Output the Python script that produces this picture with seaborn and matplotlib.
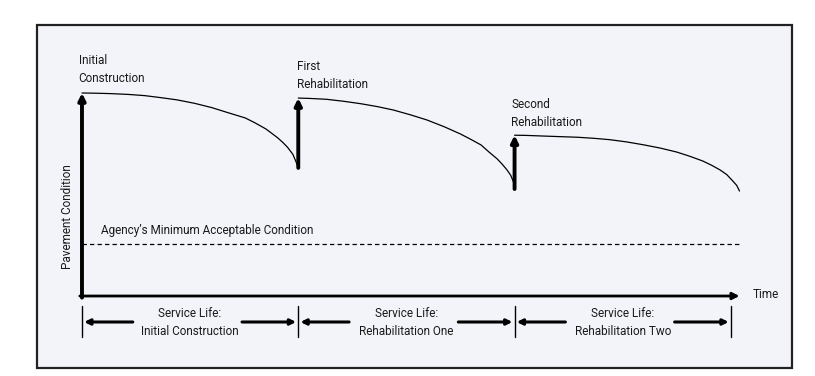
import numpy as np
import pandas as pd
import matplotlib
matplotlib.use("Agg")
import matplotlib.pyplot as plt
from matplotlib.patches import Rectangle
import seaborn as sns

# condition curves (x in service lives, y in % condition)
initial_x = [0.0, 0.059, 0.13, 0.213, 0.29, 0.365, 0.44, 0.521, 0.60, 0.675,
             0.755, 0.798, 0.85, 0.874, 0.905, 0.929, 0.95, 0.975, 0.99, 1.0]
initial_y = [100.0, 99.9, 99.7, 99.3, 98.7, 97.7, 96.6, 94.9, 92.8, 90.3,
             87.7, 85.4, 82.3, 80.4, 77.9, 75.6, 73.3, 69.8, 66.0, 63.1]
rehab1_x = [1.0, 1.057, 1.13, 1.211, 1.29, 1.365, 1.44, 1.52, 1.595, 1.674,
            1.75, 1.797, 1.845, 1.882, 1.92, 1.943, 1.965, 1.982, 1.995, 2.0]
rehab1_y = [97.5, 97.3, 96.9, 95.9, 94.7, 93.3, 91.6, 89.2, 86.7, 83.4,
            79.8, 77.2, 74.4, 70.9, 67.5, 64.9, 62.1, 59.5, 56.2, 52.7]
rehab2_x = [2.0, 2.056, 2.13, 2.21, 2.29, 2.364, 2.44, 2.518, 2.595, 2.672,
            2.75, 2.811, 2.87, 2.911, 2.95, 2.981, 3.005, 3.027, 3.04]
rehab2_y = [79.2, 79.1, 78.8, 78.5, 78.2, 77.7, 77.0, 75.9, 74.5, 72.9,
            70.9, 68.8, 66.5, 64.4, 62.1, 59.8, 57.1, 54.5, 51.7]

event_labels = ["Initial\nConstruction", "First\nRehabilitation", "Second\nRehabilitation"]
life_labels = ["Service Life:\nInitial Construction",
               "Service Life:\nRehabilitation One",
               "Service Life:\nRehabilitation Two"]
life_bounds = [0, 1, 2, 3]
min_condition = 25.6
time_end = 3.04

curves = pd.concat([
    pd.DataFrame({"t": initial_x, "cond": initial_y, "phase": "initial"}),
    pd.DataFrame({"t": rehab1_x, "cond": rehab1_y, "phase": "rehab1"}),
    pd.DataFrame({"t": rehab2_x, "cond": rehab2_y, "phase": "rehab2"}),
])

sns.set_theme(style="white")
plt.rcParams['font.family'] = ['Roboto', 'DejaVu Sans']
fs = 8.5

fig = plt.figure(figsize=(8.15, 3.76), dpi=100)
fig.patch.set_facecolor("white")
# framed panel behind the diagram
fig.patches.append(Rectangle((37 / 815, 1 - 368 / 376), (792 - 37) / 815, (368 - 25) / 376,
                             transform=fig.transFigure, facecolor="#f3f4f9",
                             edgecolor="#222222", linewidth=1.6, zorder=-5))

ax = fig.add_axes([0, 0, 1, 1])
ax.set_zorder(2)
ax.set_facecolor("none")
ax.patch.set_alpha(0)
ax.set_xlim(-0.379, 3.389)
ax.set_ylim(-39.4, 145.8)
ax.axis("off")

sns.lineplot(data=curves, x="t", y="cond", units="phase", estimator=None,
             color="black", linewidth=0.9, ax=ax, legend=False, sort=False)

txt = "#1a1a1a"

# axes drawn as arrows
ax.annotate("", xy=(0, initial_y[0]), xytext=(0, -0.8),
            arrowprops=dict(arrowstyle="-|>", color="black", lw=2.8,
                            mutation_scale=10, shrinkA=0, shrinkB=0))
ax.annotate("", xy=(time_end, 0), xytext=(-0.01, 0),
            arrowprops=dict(arrowstyle="-|>", color="black", lw=2.0,
                            mutation_scale=10, shrinkA=0, shrinkB=0))
ax.text(3.10, 0.5, "Time", ha="left", va="center", fontsize=fs, color=txt)
ax.text(-0.065, 38.9, "Pavement Condition", rotation=90, ha="center", va="center",
        fontsize=fs, color=txt)

# rehabilitation jumps
for x0, y_lo, y_hi in [(rehab1_x[0], initial_y[-1], rehab1_y[0]),
                       (rehab2_x[0], rehab1_y[-1], rehab2_y[0])]:
    ax.annotate("", xy=(x0, y_hi), xytext=(x0, y_lo),
                arrowprops=dict(arrowstyle="-|>", color="black", lw=2.8,
                                mutation_scale=10, shrinkA=0, shrinkB=0))

# event labels
ax.text(-0.015, 104.0, event_labels[0], ha="left", va="bottom", fontsize=fs,
        color=txt, linespacing=1.45)
ax.text(0.995, 101.0, event_labels[1], ha="left", va="bottom", fontsize=fs,
        color=txt, linespacing=1.45)
ax.text(1.985, 82.5, event_labels[2], ha="left", va="bottom", fontsize=fs,
        color=txt, linespacing=1.45)

# minimum acceptable condition
ax.plot([0, time_end], [min_condition, min_condition], color="black",
        linewidth=0.9, linestyle=(0, (3.5, 2.5)))
ax.text(0.09, 32.5, "Agency\u2019s Minimum Acceptable Condition", ha="left",
        va="center", fontsize=fs, color=txt)

# service life brackets
for b in life_bounds:
    ax.plot([b, b], [-4.9, -20.2], color="black", linewidth=1.0)
for i, lab in enumerate(life_labels):
    a, b = life_bounds[i], life_bounds[i + 1]
    mid = (a + b) / 2
    ax.annotate("", xy=(a + 0.01, -12.8), xytext=(a + 0.235, -12.8),
                arrowprops=dict(arrowstyle="-|>", color="black", lw=2.2,
                                mutation_scale=8, shrinkA=0, shrinkB=0))
    ax.annotate("", xy=(b - 0.01, -12.8), xytext=(b - 0.26, -12.8),
                arrowprops=dict(arrowstyle="-|>", color="black", lw=2.2,
                                mutation_scale=8, shrinkA=0, shrinkB=0))
    ax.text(mid, -13.0, lab, ha="center", va="center", fontsize=fs,
            color=txt, linespacing=1.45)

fig.savefig("out.png", dpi=100)
